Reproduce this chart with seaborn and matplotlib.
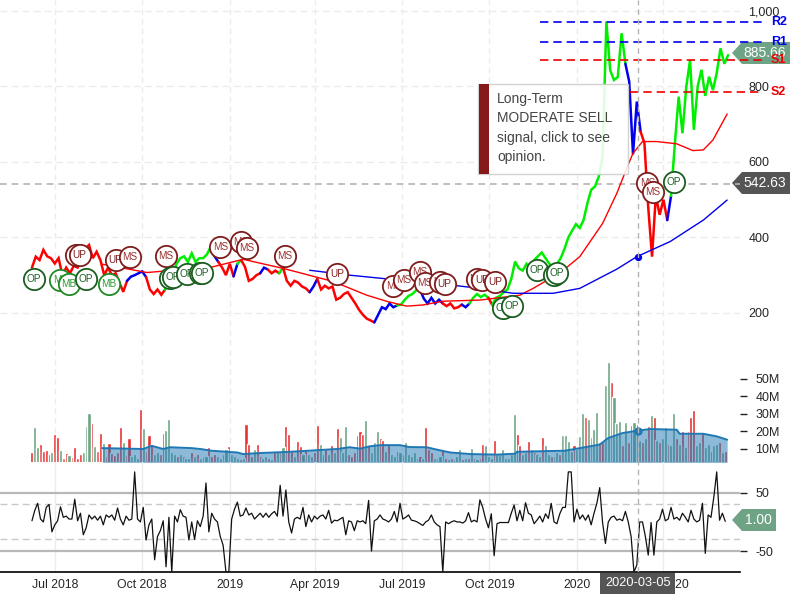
import matplotlib
matplotlib.use("Agg")
import matplotlib.pyplot as plt
import numpy as np
import pandas as pd
import seaborn as sns
from matplotlib.patches import Polygon, Rectangle

sns.set_style("white")
plt.rcParams['font.family'] = ['Liberation Sans', 'DejaVu Sans']
plt.rcParams['axes.unicode_minus'] = False

# x axis is days since 2018-06-07
tick_days = [24, 116, 208, 298, 389, 481, 573, 664]
tick_labels = ['Jul 2018', 'Oct 2018', '2019', 'Apr 2019', 'Jul 2019', 'Oct 2019', '2020', 'Apr 2020']
crosshair_day = 637
crosshair_label = '2020-03-05'
crosshair_price = 542.63
last_price = 885.66
last_cci = 1.00

# price, one value every 4 days, coloured in runs
price_values = [
    320, 349, 340, 367, 350, 345, 331, 345, 300, 320, 305, 325, 320, 340, 370, 380, 345, 362, 340, 300, 320, 300, 305,
    280, 256, 285,
    296, 300, 305, 310, 295,
    262, 250, 262, 248, 262,
    290, 300, 330, 345, 350, 335, 358, 335, 345, 345, 355, 375, 350,
    335,
    320, 300, 330, 297,
    330,
    340,
    322, 285, 290, 300, 305,
    320, 315,
    305, 312, 305,
    320,
    285, 272, 285, 280, 270, 265, 255,
    270, 290,
    262, 272, 265, 270, 235, 240, 250, 255, 240, 225, 208, 195, 185, 180, 175,
    195, 215, 210, 225, 215, 220,
    222, 235, 245, 250, 260, 262,
    238, 225, 240, 225, 235, 225,
    218, 225, 212, 215, 222,
    215, 225,
    240, 250, 242, 248, 240,
    221,
    240, 245, 255, 262, 290, 336, 318, 312, 330, 318, 340, 350, 360, 345, 330, 322, 330, 345, 370, 400, 418, 435, 425,
    446, 490, 526, 535, 561, 614, 972, 843, 817, 825, 941, 860,
    813, 620, 760, 680,
    650, 480, 349, 510, 460, 500, 446,
    510,
    649, 773, 676, 799, 870, 685, 800, 844, 775, 826, 790, 835, 901, 860, 883,
]
run_colors = ['r', 'b', 'r', 'g', 'b', 'r', 'b', 'g', 'r', 'b', 'r', 'g', 'r', 'b', 'r', 'b', 'g', 'b', 'r', 'b', 'g',
              'r', 'g', 'b', 'r', 'b', 'g']
run_lengths = [26, 5, 5, 13, 1, 4, 1, 1, 5, 2, 3, 1, 7, 2, 15, 6, 6, 6, 5, 2, 5, 1, 35, 4, 7, 1, 15]

ma_red_days = [74, 121, 190, 222, 264, 317, 352, 374, 394, 411, 432, 471, 513, 527, 542, 563, 576, 600, 615, 626, 632,
               642, 657, 678, 695, 706, 716, 731]
ma_red_values = [329, 307, 322, 342, 318, 283, 247, 230, 218, 221, 231, 234, 247, 265, 287, 322, 349, 437, 517, 587,
                 623, 654, 654, 648, 630, 632, 658, 727]
ma_blue_days = [292, 334, 366, 447, 471, 506, 548, 576, 615, 636, 671, 706, 731]
ma_blue_values = [313, 300, 292, 272, 265, 252, 252, 265, 316, 349, 389, 446, 499]
ma_dot_value = 349

level_names = ['R2', 'R1', 'S1', 'S2']
level_values = [970, 919, 869, 785]
level_starts = [534, 534, 534, 629]
level_colors = ['#0000ee', '#0000ee', '#ee0000', '#ee0000']

signal_days = [2, 30, 39, 46, 50, 57, 81, 88, 103, 141, 145, 148, 163, 177, 179, 198, 220, 226, 266, 321, 380, 391,
               408, 413, 429, 434, 468, 473, 487, 495, 505, 531, 549, 552, 647, 653, 675]
signal_values = [289, 287, 276, 353, 353, 290, 276, 340, 347, 351, 292, 294, 303, 307, 305, 375, 389, 371, 352, 304,
                 271, 287, 309, 278, 283, 276, 290, 287, 281, 212, 218, 314, 300, 305, 543, 521, 548]
signal_names = ['OP', 'MB', 'MB', 'UP', 'UP', 'OP', 'MB', 'UP', 'MS', 'MS', 'OP', 'OP', 'OP', 'OP', 'OP', 'MS', 'MS',
                'MS', 'MS', 'UP', 'MS', 'MS', 'MS', 'MS', 'UP', 'UP', 'MS', 'UP', 'UP', 'OP', 'OP', 'OP', 'OP', 'OP',
                'MS', 'MS', 'OP']

# volume in millions, one bar every 3 days
vol_values = [
    8, 22.5, 11, 13, 8.6, 9.5, 7, 8.4, 18.5, 17, 9.5, 5, 7.5, 6.8, 5.5, 11, 5, 7, 8, 23, 30.5, 25, 11.5, 9, 19, 13.5,
    6, 13.4, 7.7, 6.5, 8, 22.5, 14, 6.5, 16, 6, 7, 5, 33, 22, 9, 18, 12, 7, 8, 7, 19, 21, 27, 8, 7, 6, 7, 6, 5, 5, 8,
    6, 7, 5, 6, 6, 11, 6, 7, 6, 5, 7, 10, 11.5, 7, 6, 5, 4.5, 5, 24, 13, 6, 10, 13, 6, 5, 6, 5, 4.5, 8, 9, 8, 11, 23,
    18.5, 9, 6, 14.5, 11.5, 7, 10, 7, 6, 8, 23.5, 13, 7, 10, 7, 12, 8, 22, 17, 8, 23, 7, 6, 8, 18, 20, 18.5, 26.5, 12,
    8, 14, 20, 16, 15, 9, 13, 7, 6, 9, 8, 7, 13.8, 7, 6, 8, 5, 6, 5, 22.5, 10, 8, 5, 5, 6, 9.6, 5, 4.5, 5, 4.5, 6, 10,
    4.5, 5, 5, 10.5, 5, 4, 5, 13, 12, 6, 5, 15.3, 7, 7, 10, 5, 5, 7, 30, 18.5, 12, 7, 8, 14.7, 10, 8, 7, 6, 16.8, 12,
    7, 6, 6, 8, 7, 18, 18, 14.7, 9, 12.5, 10, 17.6, 30.5, 28, 27, 17, 21.4, 31, 14, 14, 46.6, 59.6, 48, 39.6, 24.8, 26,
    12, 25.7, 14, 23.5, 25.4, 24, 15, 14, 16, 23, 29.4, 28, 15, 14, 16, 22.5, 13, 12, 30.5, 16, 13, 20, 11, 20.4, 28,
    32.4, 12, 14, 19, 11, 13, 9, 12, 13, 14, 8, 9,
]
vol_signs = list(
    "rggrrrrgrr" "grrgrrrrgg" "grgrrgrrrr" "rrgrrgggrg" "rrrggrrggg"
    "grgrggrgrg" "ggrrrggrgr" "gggrgrrrgr" "rggrgrgrgr" "rrgrrgrggr"
    "rgrrgrgrgg" "grrrrrrgrg" "ggrrgrggrg" "rggggrrgrr" "rgggrrgrgg"
    "grgrgrgrrg" "ggrggggggg" "rrggrgrggr" "ggrggrgggg" "rgggrgrggr"
    "rggrgggrgr" "rgrgrgrgrg" "rggrggrgrg" "rrrggrggrg" "grgr"
)
vol_avg_days = [74, 117, 126, 138, 145, 168, 177, 189, 216, 222, 240, 268, 284, 321, 334, 345, 355, 366, 387, 397, 415,
                426, 440, 461, 489, 508, 510, 541, 560, 573, 597, 606, 621, 636, 650, 678, 681, 706, 720, 731]
vol_avg_values = [10.5, 10, 11.8, 10, 11, 10.5, 10, 9, 8, 7.1, 7.7, 8.3, 8.8, 10, 11, 10.2, 11.5, 12.2, 12.2, 11.1, 11,
                  9.6, 8, 7.1, 6.8, 7.3, 8.4, 8.8, 9, 10.2, 12.5, 16.3, 19.1, 20.4, 21.4, 21, 18.7, 18.7, 17.2, 15.3]
vol_dot_value = 20.4
vol_ticks = [10, 20, 30, 40, 50]

# oscillator, one value every 3 days, cut off at the panel edge
cci_values = [
    2, 20, 32, 5, 0, 25, 30, -17, -5, 2, 26, 8, 10, 5, 5, 39, 2, 15, -22, -10, 12, 5, 10, 3, 10, -5, 12, 8, 12, 3, 24,
    5, -5, 10, 3, 5, 86, 5, 0, 25, -31, -5, 5, -65, -25, -15, 2, -77, 8, -86, 10, 0, 21, 10, 8, -31, 0, -30, 2, -8, 10,
    67, -17, 15, 5, 0, -25, -40, -86, -86, 5, 22, 34, 10, 12, 24, 12, 15, 5, 10, 15, 8, 15, 8, 14, 18, 10, 63, 10, 55,
    0, -19, 5, 8, 5, 25, -8, 12, 0, 10, 5, 10, 12, 5, 20, -2, 3, 2, 5, 8, -22, 2, 0, -15, 2, 0, 2, -3, 37, -50, 2, 5,
    12, 5, 3, 0, 5, 18, 0, 32, 5, 8, 12, 3, 2, 0, -3, -6, 0, 3, 12, 0, -5, -8, -86, 0, -3, 0, 2, 0, 0, -2, 2, 16, 0, 3,
    0, 38, 25, 5, -10, 14, -58, -3, -1, -1, -1, -1, 15, 29, 2, 20, 2, 33, 15, 12, -3, 3, 10, 0, 14, 6, 32, 0, -3, 14,
    25, 25, 86, 86, 0, 22, 5, 12, 3, 12, -5, 15, 32, 59, -1, -37, 0, 8, 10, 3, 5, 2, 18, 0, -25, -86, -74, 0, 0, -25,
    -57, -1, -57, 0, 5, 22, 2, 5, 25, 5, 8, 3, 15, 8, 0, 20, 5, 0, 3, 32, -54, 12, 8, 43, 86, 3, 15, 1,
]
cci_ticks = [-50, 50]
cci_dashed = [-30, 30]

color_map = {'r': '#ff0000', 'b': '#0000ee', 'g': '#00ee00'}
vol_palette = {'r': '#e53030', 'g': '#6aa583'}
grid_color = '#ececec'
cross_color = '#b4b4b4'
tag_green = '#6ea385'
tag_grey = '#555555'


def add_tag(fig, tip_x, center_y, right_x, text_x, label, color):
    """
    Draws the arrow shaped value tag right of the panels, in figure pixels
    """
    half = 11
    points = [(tip_x, center_y), (tip_x + 10, center_y - half), (right_x, center_y - half),
              (right_x, center_y + half), (tip_x + 10, center_y + half)]
    points = [(x / 800, 1 - y / 600) for x, y in points]
    fig.add_artist(Polygon(points, closed=True, transform=fig.transFigure, fc=color, ec='none', zorder=6))
    fig.text(text_x / 800, 1 - center_y / 600, label, color='white', fontsize=10, ha='center', va='center', zorder=7)


fig = plt.figure(figsize=(8, 6), dpi=100)
panel_right = 740 / 800
ax_price = fig.add_axes([0, 1 - 345 / 600, panel_right, 345 / 600], zorder=8)
ax_vol = fig.add_axes([0, 1 - 462 / 600, panel_right, 117 / 600])
ax_cci = fig.add_axes([0, 1 - 572 / 600, panel_right, 110 / 600])
for ax in (ax_price, ax_vol, ax_cci):
    ax.patch.set_alpha(0)

# price panel
price_days = np.arange(len(price_values)) * 4
start = 0
for color, length in zip(run_colors, run_lengths):
    first = max(start - 1, 0)
    sns.lineplot(x=price_days[first:start + length], y=price_values[first:start + length], color=color_map[color],
                 lw=1.8, solid_joinstyle='miter', estimator=None, sort=False, errorbar=None, ax=ax_price, zorder=3)
    start += length

sns.lineplot(x=ma_red_days, y=ma_red_values, color='#ff0000', lw=1, estimator=None, errorbar=None, ax=ax_price, zorder=4)
sns.lineplot(x=ma_blue_days, y=ma_blue_values, color='#0000ee', lw=1, estimator=None, errorbar=None, ax=ax_price, zorder=4)
sns.scatterplot(x=[crosshair_day], y=[ma_dot_value], color='#0000ee', s=28, linewidth=0, ax=ax_price, zorder=5)

for name, value, first, color in zip(level_names, level_values, level_starts, level_colors):
    ax_price.plot([first, 769], [value, value], color=color, lw=1.2, dashes=(5, 3), clip_on=False, zorder=5)
    ax_price.text(777, value, name, color=color, fontsize=9, fontweight='bold', va='center', ha='left', zorder=9,
                  clip_on=False)

ax_price.axhline(crosshair_price, color=cross_color, lw=1.2, dashes=(4, 3), zorder=2, clip_on=False)

# signal bubbles, later ones on top of earlier ones
signal_styles = {'OP': ('#1b5e20', '#1b5e20'), 'MB': ('#1f8a24', '#2e9a34'),
                 'UP': ('#7f1d1d', '#7f1d1d'), 'MS': ('#7f1d1d', '#9a3030')}
for i, (day, value, name) in enumerate(zip(signal_days, signal_values, signal_names)):
    edge, text_color = signal_styles[name]
    sns.scatterplot(x=[day], y=[value], s=235, color='white', edgecolor=edge, linewidth=1.3, ax=ax_price,
                    zorder=10 + i * 0.01)
    ax_price.text(day, value, name, color=text_color, fontsize=7.2, ha='center', va='center',
                  zorder=10 + i * 0.01 + 0.005)

# volume panel
vol_df = pd.DataFrame({'day': np.arange(len(vol_values)) * 3, 'volume': vol_values, 'sign': vol_signs})
sns.barplot(data=vol_df, x='day', y='volume', hue='sign', palette=vol_palette, native_scale=True, saturation=1,
            dodge=False, width=1.1, legend=False, errorbar=None, ax=ax_vol, zorder=2)
ax_vol.fill_between(vol_avg_days, 0, vol_avg_values, color='#1f77b4', alpha=0.5, lw=0, zorder=3)
sns.lineplot(x=vol_avg_days, y=vol_avg_values, color='#1f77b4', lw=1.4, estimator=None, errorbar=None, ax=ax_vol, zorder=4)
sns.scatterplot(x=[crosshair_day], y=[vol_dot_value], color='#1f77b4', s=36, linewidth=0, ax=ax_vol, zorder=5)

# oscillator panel
sns.lineplot(x=np.arange(len(cci_values)) * 3, y=cci_values, color='#111111', lw=0.9, estimator=None, errorbar=None,
             ax=ax_cci, zorder=4)
for value in cci_ticks:
    ax_cci.axhline(value, color='#b8b8b8', lw=1.6, zorder=2)
for value in cci_dashed:
    ax_cci.axhline(value, color='#c8c8c8', lw=1, dashes=(5, 3), zorder=2)

# axes, grid and ticks
for ax in (ax_price, ax_vol, ax_cci):
    ax.set_xlim(-33.6, 744.5)
    ax.set_xlabel('')
    ax.set_ylabel('')
    ax.set_xticks(tick_days)
    sns.despine(ax=ax, left=True, bottom=True, right=True, top=True)
    ax.yaxis.tick_right()
    for day in tick_days:
        if ax is ax_cci:
            ax.axvline(day, color=grid_color, lw=1, zorder=1)
        else:
            ax.axvline(day, color=grid_color, lw=1, dashes=(4, 3), zorder=1)
    ax.axvline(crosshair_day, color=cross_color, lw=1, dashes=(4, 3), zorder=8)

ax_price.set_ylim(115, 1029)
ax_price.set_yticks([200, 400, 600, 800, 1000])
ax_price.set_yticklabels(['200', '400', '600', '800', '1,000'])
ax_price.tick_params(axis='y', length=0, pad=6, labelsize=9)
ax_price.tick_params(axis='x', length=0, labelbottom=False)
for value in [200, 400, 600, 800, 1000]:
    ax_price.axhline(value, color=grid_color, lw=1, dashes=(5, 3), zorder=1)

ax_vol.set_ylim(2.57, 69.4)
ax_vol.set_yticks(vol_ticks)
ax_vol.set_yticklabels([f'{v}M' for v in vol_ticks])
ax_vol.tick_params(axis='y', length=5, width=1, color='#222222', pad=6, labelsize=9)
ax_vol.tick_params(axis='x', length=0, labelbottom=False)

ax_cci.set_ylim(-86, 103)
ax_cci.set_yticks(cci_ticks)
ax_cci.tick_params(axis='y', length=5, width=1, color='#222222', pad=6, labelsize=9)
ax_cci.set_xticklabels(tick_labels)
ax_cci.tick_params(axis='x', length=0, pad=5, labelsize=8.8)
ax_cci.spines['bottom'].set_visible(True)
ax_cci.spines['bottom'].set_color('black')
ax_cci.spines['bottom'].set_linewidth(1.2)

# value tags on the right edge
add_tag(fig, 732, 53, 790, 765, f'{last_price:.2f}', tag_green)
add_tag(fig, 732, 183, 790, 765, f'{crosshair_price:.2f}', tag_grey)
add_tag(fig, 732, 520, 776, 758, f'{last_cci:.2f}', tag_green)
ax_cci.annotate(crosshair_label, xy=(crosshair_day, 0), xycoords=('data', 'axes fraction'), xytext=(0, -8),
                textcoords='offset points', color='white', fontsize=9.2, ha='center', va='center', zorder=12,
                annotation_clip=False, bbox=dict(boxstyle='square,pad=0.35', fc=tag_grey, ec='none'))

# opinion box
fig.add_artist(Rectangle((478 / 800, 1 - 174 / 600), 150 / 800, 90 / 600, transform=fig.transFigure, fc='white',
                         ec='#cccccc', lw=1, alpha=0.88, zorder=20))
fig.add_artist(Rectangle((479 / 800, 1 - 174 / 600), 10 / 800, 90 / 600, transform=fig.transFigure, fc='#861a1a',
                         ec='none', zorder=21))
fig.text(497 / 800, 1 - 128 / 600, 'Long-Term\nMODERATE SELL\nsignal, click to see\nopinion.', color='#444444',
         fontsize=10, linespacing=1.5, va='center', ha='left', zorder=22)

fig.savefig("out.png", dpi=100)
